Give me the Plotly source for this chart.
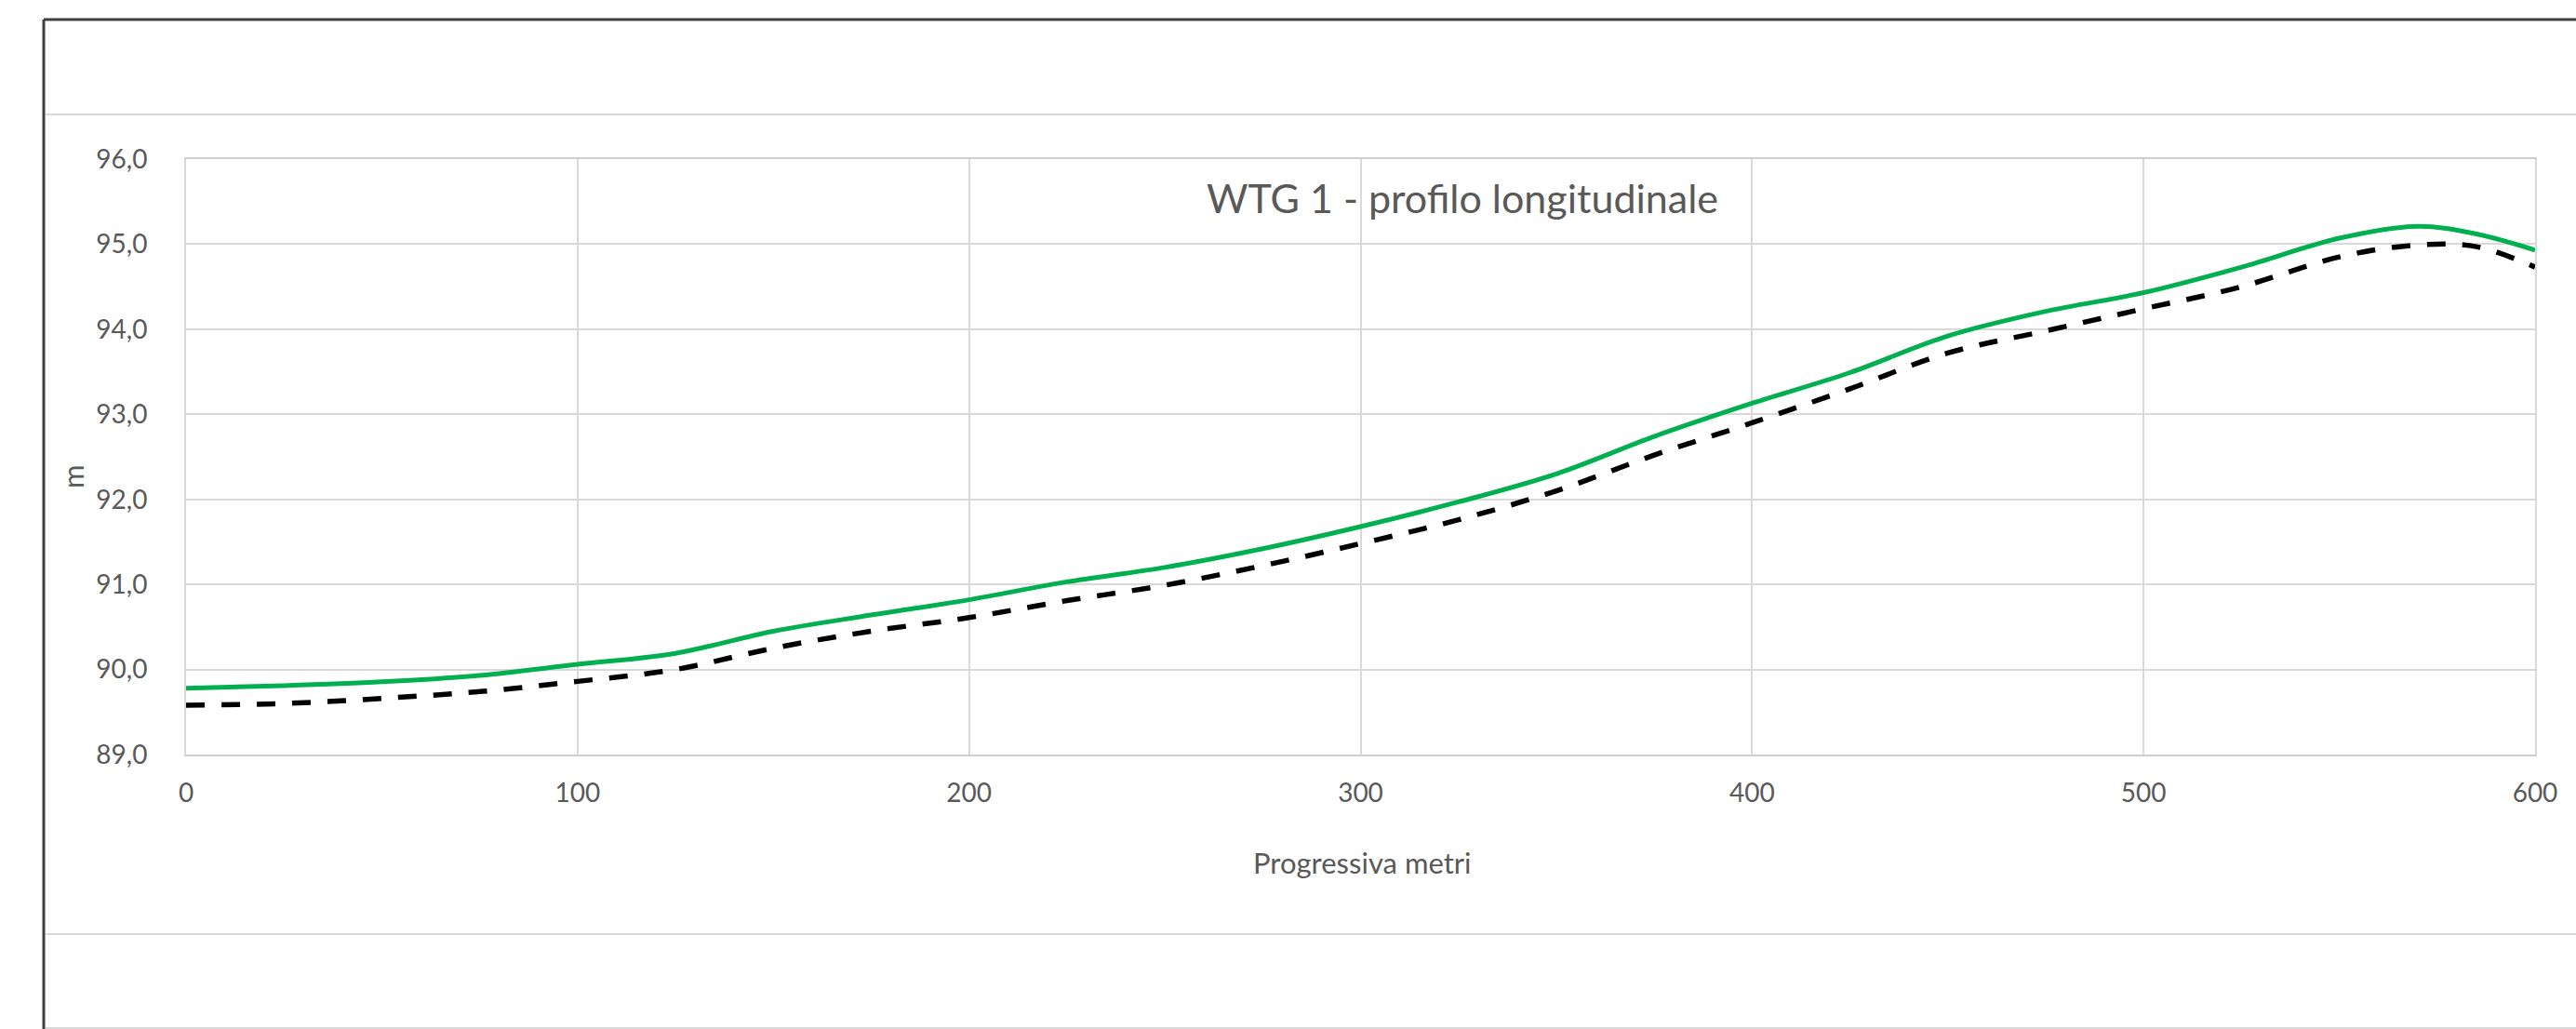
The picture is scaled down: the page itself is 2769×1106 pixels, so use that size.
import plotly.graph_objects as go

# Progressiva (m)
dist = [0, 25, 50, 75, 100, 125, 150, 175, 200, 225, 250, 275, 300, 325, 350,
        375, 400, 425, 450, 475, 500, 525, 550, 570, 585, 600]
# Profilo (linea verde)
profilo_verde = [89.78, 89.81, 89.855, 89.93, 90.06, 90.19, 90.45, 90.64, 90.82, 91.03,
                 91.20, 91.42, 91.68, 91.97, 92.30, 92.74, 93.13, 93.49, 93.92, 94.21,
                 94.43, 94.73, 95.07, 95.21, 95.12, 94.93]
# Profilo (linea tratteggiata nera)
profilo_nero = [89.58, 89.60, 89.66, 89.74, 89.86, 90.00, 90.25, 90.45, 90.61, 90.81,
                90.99, 91.22, 91.48, 91.76, 92.10, 92.52, 92.90, 93.30, 93.72, 93.98,
                94.24, 94.50, 94.85, 94.99, 94.97, 94.73]

y_ticks = [89, 90, 91, 92, 93, 94, 95, 96]
x_ticks = [0, 100, 200, 300, 400, 500, 600]

W, H = 2769, 1106
L, R, T, B = 200, 2725, 171, 811
FONT = "Lato, 'Open Sans', sans-serif"
TXT = "#595959"
GRID = "#d9d9d9"

def px_x(p):
    return (p - L) / (R - L)

def px_y(p):
    return (B - p) / (B - T)

fig = go.Figure()
fig.add_trace(go.Scatter(x=dist, y=profilo_verde, mode="lines", line_shape="spline",
                         line=dict(color="#00b050", width=5), showlegend=False))
fig.add_trace(go.Scatter(x=dist, y=profilo_nero, mode="lines", line_shape="spline",
                         line=dict(color="#000000", width=5.5, dash="20px,18px"), showlegend=False))

fig.update_layout(
    width=W, height=H,
    margin=dict(l=L, r=W - R, t=T, b=H - B, pad=0),
    paper_bgcolor="white", plot_bgcolor="white",
    separators=",.",
    font=dict(family=FONT, size=28, color=TXT),
)
fig.update_xaxes(range=[0, 600], tickvals=x_ticks, showgrid=True, gridcolor=GRID, gridwidth=2,
                 showline=True, linecolor="#cfcfcf", linewidth=2, mirror=True, zeroline=False,
                 ticks="outside", ticklen=15, tickcolor="rgba(0,0,0,0)",
                 tickfont=dict(family=FONT, size=28, color=TXT))
fig.update_yaxes(range=[89, 96], tickvals=y_ticks, tickformat=".1f", showgrid=True, gridcolor=GRID,
                 gridwidth=2, showline=True, linecolor=GRID, linewidth=2, mirror=True, zeroline=False,
                 ticks="outside", ticklen=34, tickcolor="rgba(0,0,0,0)",
                 tickfont=dict(family=FONT, size=28, color=TXT))

# Title inside plot area
fig.add_annotation(text="WTG 1 - profilo longitudinale", xref="paper", yref="paper",
                   x=px_x(1572), y=px_y(212), showarrow=False, xanchor="center", yanchor="middle",
                   font=dict(family=FONT, size=43, color=TXT))
# Axis titles
fig.add_annotation(text="Progressiva metri", xref="paper", yref="paper",
                   x=px_x(1464), y=px_y(927), showarrow=False, xanchor="center", yanchor="middle",
                   font=dict(family=FONT, size=31, color=TXT))
fig.add_annotation(text="m", xref="paper", yref="paper", textangle=-90,
                   x=px_x(78), y=px_y(512), showarrow=False, xanchor="center", yanchor="middle",
                   font=dict(family=FONT, size=31, color=TXT))

# Frame lines (outer chart border and light separators)
fig.add_shape(type="line", xref="paper", yref="paper", x0=px_x(47), x1=px_x(W + 5),
              y0=px_y(21), y1=px_y(21), line=dict(color="#404040", width=3))
fig.add_shape(type="line", xref="paper", yref="paper", x0=px_x(47), x1=px_x(47),
              y0=px_y(21), y1=px_y(H + 5), line=dict(color="#404040", width=3))
fig.add_shape(type="line", xref="paper", yref="paper", x0=px_x(49), x1=px_x(W + 5),
              y0=px_y(123), y1=px_y(123), line=dict(color=GRID, width=2))
fig.add_shape(type="line", xref="paper", yref="paper", x0=px_x(49), x1=px_x(W + 5),
              y0=px_y(1004), y1=px_y(1004), line=dict(color=GRID, width=2))
fig.add_shape(type="line", xref="paper", yref="paper", x0=px_x(49), x1=px_x(W + 5),
              y0=px_y(1105), y1=px_y(1105), line=dict(color=GRID, width=2))

fig.write_html("out.html", config={"displayModeBar": False},
               post_script="document.body.style.margin='0';document.body.style.overflow='hidden';")
